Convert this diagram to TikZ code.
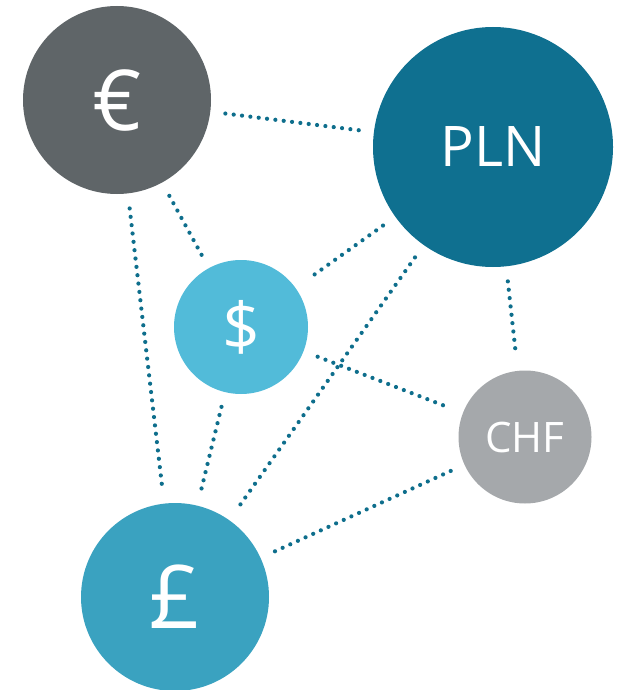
\documentclass[tikz,border=0pt]{standalone}
\usepackage{fontspec}
\setmainfont{Open Sans}
\usetikzlibrary{positioning}

\definecolor{eurgray}{HTML}{5F6568}
\definecolor{plnteal}{HTML}{0F7090}
\definecolor{usdblue}{HTML}{52BBD9}
\definecolor{chfgray}{HTML}{A5A8AB}
\definecolor{gbpblue}{HTML}{3AA2C0}
\definecolor{dotteal}{HTML}{0E6E8C}

\newcommand{\fsz}[1]{\fontsize{#1}{#1}\selectfont}

\tikzset{
  coin/.style={circle,inner sep=0pt,text=white},
  link/.style={dotteal,line width=4.2pt,line cap=round,dash pattern=on 0pt off 8.4pt,
    shorten <=15pt,shorten >=15pt}
}

\begin{document}
\begin{tikzpicture}[x=1pt,y=-1pt]
  \useasboundingbox (0,0) rectangle (620,690);

  \node[coin,fill=eurgray,minimum size=188pt] (eur) at (117,100) {\fsz{84}€};
  \node[coin,fill=plnteal,minimum size=240pt] (pln) at (493,147) {\fsz{56}PLN};
  \node[coin,fill=usdblue,minimum size=134pt] (usd) at (241,327) {\fsz{66}\$};
  \node[coin,fill=chfgray,minimum size=133pt] (chf) at (525,437) {\fsz{42}CHF};
  \node[coin,fill=gbpblue,minimum size=188pt] (gbp) at (175,597) {\fsz{88}£};

  \draw[link] (eur) -- (pln);
  \draw[link] (eur) -- (usd);
  \draw[link] (eur) -- (gbp);
  \draw[link] (pln) -- (usd);
  \draw[link] (pln) -- (gbp);
  \draw[link] (pln) -- (chf);
  \draw[link] (usd) -- (chf);
  \draw[link] (usd) -- (gbp);
  \draw[link] (chf) -- (gbp);
\end{tikzpicture}
\end{document}
